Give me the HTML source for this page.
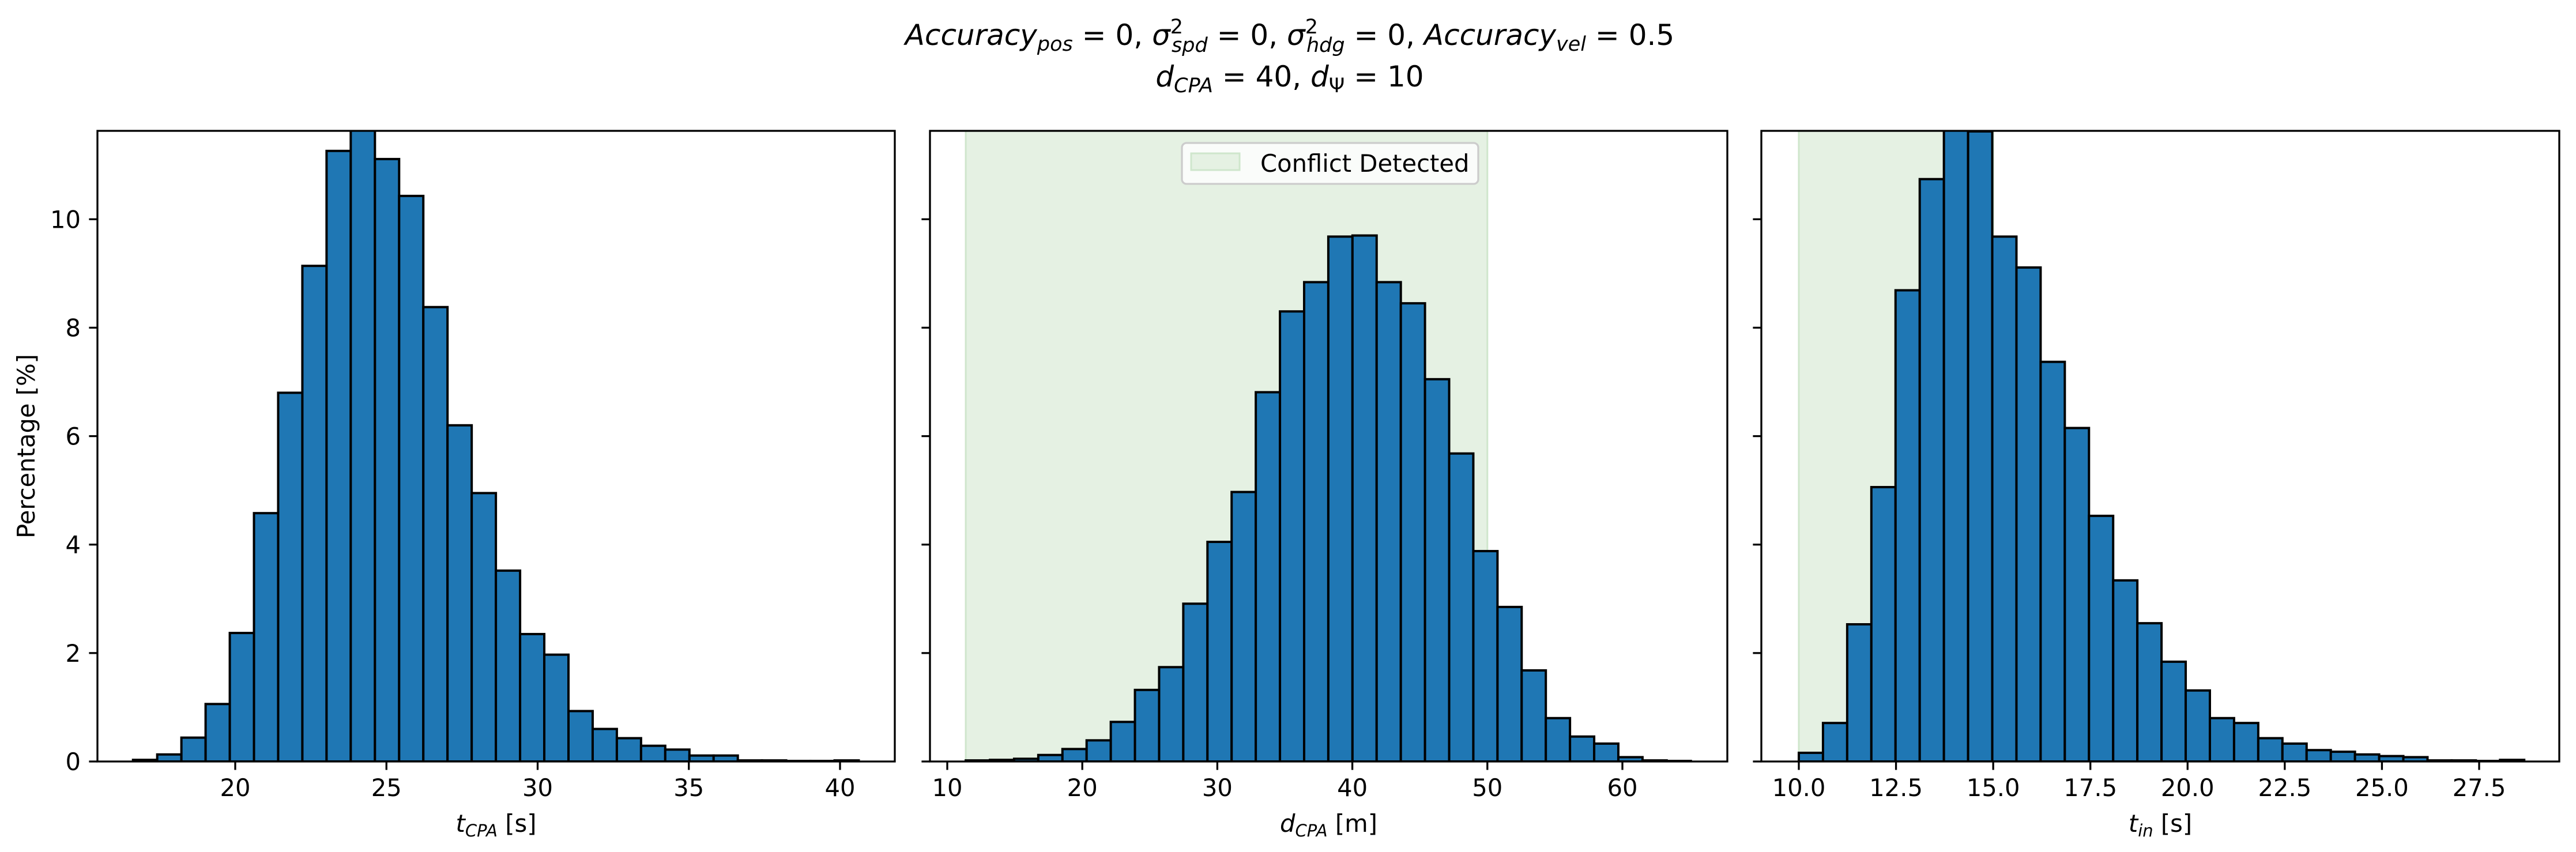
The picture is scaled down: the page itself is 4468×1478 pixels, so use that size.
<!DOCTYPE html>
<html><head><meta charset="utf-8">
<style>
html,body{margin:0;padding:0;background:#fff;}
svg{display:block;font-family:"DejaVu Sans","Liberation Sans",sans-serif;}
</style></head>
<body>
<svg id="fig" width="4468" height="1478" viewBox="0 0 4468 1478" xmlns="http://www.w3.org/2000/svg">
<rect width="4468" height="1478" fill="#fff"/>
<g font-size="50" text-anchor="middle" fill="#000">
<text x="2237" y="78"><tspan font-style="italic">Accuracy</tspan><tspan font-style="italic" font-size="35" dy="10">pos</tspan><tspan dy="-10"> = 0, </tspan><tspan font-style="italic">σ</tspan><tspan font-size="35" dy="-20">2</tspan><tspan font-style="italic" font-size="35" dx="-20" dy="32">spd</tspan><tspan dy="-12"> = 0, </tspan><tspan font-style="italic">σ</tspan><tspan font-size="35" dy="-20">2</tspan><tspan font-style="italic" font-size="35" dx="-20" dy="32">hdg</tspan><tspan dy="-12"> = 0, </tspan><tspan font-style="italic">Accuracy</tspan><tspan font-style="italic" font-size="35" dy="10">vel</tspan><tspan dy="-10"> = 0.5</tspan></text>
<text x="2237" y="150"><tspan font-style="italic">d</tspan><tspan font-style="italic" font-size="35" dy="10">CPA</tspan><tspan dy="-10"> = 40, </tspan><tspan font-style="italic">d</tspan><tspan font-size="35" dy="10">Ψ</tspan><tspan dy="-10"> = 10</tspan></text>
</g>
<text x="0" y="0" font-size="41.7" text-anchor="middle" transform="translate(60,774) rotate(-90)">Percentage [%]</text>
<g id="plots"></g>
</svg>
<script>
const yTicks = [0, 2, 4, 6, 8, 10];
const yMax = 11.63;

const tcpaStart = 16.62;
const tcpaWidth = 0.8;
const tcpaValues = [0.03,0.13,0.44,1.06,2.37,4.58,6.80,9.14,11.26,11.7,11.11,10.43,8.38,6.20,4.95,3.52,2.35,1.97,0.93,0.60,0.43,0.29,0.22,0.11,0.11,0.02,0.02,0.01,0.01,0.02];
const tcpaTicks = [20, 25, 30, 35, 40];
const tcpaTickLabels = ["20","25","30","35","40"];

const dcpaStart = 11.37;
const dcpaWidth = 1.79;
const dcpaValues = [0.02,0.03,0.05,0.12,0.23,0.39,0.73,1.32,1.74,2.91,4.05,4.97,6.81,8.30,8.84,9.68,9.70,8.84,8.45,7.05,5.68,3.88,2.85,1.68,0.80,0.46,0.33,0.08,0.02,0.01];
const dcpaTicks = [10, 20, 30, 40, 50, 60];
const dcpaTickLabels = ["10","20","30","40","50","60"];
const dcpaSpan = [11.37, 50];

const tinStart = 10.0;
const tinWidth = 0.622;
const tinValues = [0.16,0.71,2.53,5.06,8.69,10.74,11.7,11.62,9.68,9.11,7.37,6.15,4.53,3.34,2.55,1.84,1.31,0.80,0.71,0.43,0.33,0.21,0.18,0.13,0.10,0.08,0.02,0.02,0.01,0.03];
const tinTicks = [10, 12.5, 15, 17.5, 20, 22.5, 25, 27.5];
const tinTickLabels = ["10.0","12.5","15.0","17.5","20.0","22.5","25.0","27.5"];
const tinSpan = [10.0, 15.0];

const NS = "http://www.w3.org/2000/svg";
const root = document.getElementById("plots");
const TOP = 227, BOT = 1321;

function mk(tag, attrs, parent) {
  const e = document.createElementNS(NS, tag);
  for (const k in attrs) e.setAttribute(k, attrs[k]);
  parent.appendChild(e);
  return e;
}

function panel(name, px0, px1, refA, refApx, refB, refBpx, start, width, values, ticks, labels, span, xlabelParts, showYLabels, legend) {
  const k = (refBpx - refApx) / (refB - refA);
  const xs = v => refApx + (v - refA) * k;
  const ys = v => BOT - v / yMax * (BOT - TOP);
  const g = mk("g", {}, root);
  
  
  const clip = mk("clipPath", {id: "clip-" + name}, g);
  mk("rect", {x: px0, y: TOP, width: px1 - px0, height: BOT - TOP}, clip);
  const inner = mk("g", {"clip-path": "url(#clip-" + name + ")"}, g);
  if (span) {
    const s = mk("rect", {x: xs(span[0]), y: TOP, width: xs(span[1]) - xs(span[0]), height: BOT - TOP, fill: "#e5f1e3", stroke: "#cfe6cc", "stroke-width": 3}, inner);
    
    
  }
  values.forEach((v, i) => {
    const x0 = xs(start + i * width), x1 = xs(start + (i + 1) * width);
    const r = mk("rect", {x: x0, y: ys(v), width: x1 - x0, height: BOT - ys(v), fill: "#1f77b4", stroke: "#000", "stroke-width": 4}, inner);
    
    
  });
  // spines
  const sp = mk("rect", {x: px0, y: TOP, width: px1 - px0, height: BOT - TOP, fill: "none", stroke: "#000", "stroke-width": 3.3}, g);
  
  
  // y ticks
  yTicks.forEach(t => {
    const y = ys(t);
    mk("line", {x1: px0, x2: px0 - 14.6, y1: y, y2: y, stroke: "#000", "stroke-width": 3.3}, g);
    if (showYLabels) {
      const tx = mk("text", {x: px0 - 29, y: y + 15, "font-size": 41.7, "text-anchor": "end"}, g);
      tx.textContent = String(t);
      
      
    }
  });
  // x ticks
  ticks.forEach((t, i) => {
    const x = xs(t);
    mk("line", {x1: x, x2: x, y1: BOT, y2: BOT + 14.6, stroke: "#000", "stroke-width": 3.3}, g);
    const tx = mk("text", {x: x, y: BOT + 60, "font-size": 41.7, "text-anchor": "middle"}, g);
    tx.textContent = labels[i];
    
    
  });
  // x label
  const xl = mk("text", {x: (px0 + px1) / 2, y: BOT + 122, "font-size": 41.7, "text-anchor": "middle"}, g);
  
  
  const a = mk("tspan", {"font-style": "italic"}, xl); a.textContent = xlabelParts[0];
  const b = mk("tspan", {"font-style": "italic", "font-size": 29, dy: 8}, xl); b.textContent = xlabelParts[1];
  const c = mk("tspan", {dy: -8}, xl); c.textContent = " [" + xlabelParts[2] + "]";
  if (legend) {
    const lg = mk("g", {}, g);
    
    
    mk("rect", {x: 2050, y: 248, width: 514, height: 71, rx: 8, fill: "#fff", "fill-opacity": 0.8, stroke: "#cccccc", "stroke-width": 3.3}, lg);
    const p = mk("rect", {x: 2066, y: 266, width: 84, height: 29, fill: "#e5f1e3", stroke: "#cfe6cc", "stroke-width": 3}, lg);
    
    
    const lt = mk("text", {x: 2186, y: 298, "font-size": 41.7}, lg);
    lt.textContent = "Conflict Detected";
    
    
  }
}

panel("tcpa-histogram", 169, 1552, 20, 408, 40, 1457, tcpaStart, tcpaWidth, tcpaValues, tcpaTicks, tcpaTickLabels, null, ["t", "CPA", "s"], true, false);
panel("dcpa-histogram", 1613, 2996, 10, 1643, 60, 2814, dcpaStart, dcpaWidth, dcpaValues, dcpaTicks, dcpaTickLabels, dcpaSpan, ["d", "CPA", "m"], false, true);
panel("tin-histogram", 3055, 4439, 10, 3120, 27.5, 4300, tinStart, tinWidth, tinValues, tinTicks, tinTickLabels, tinSpan, ["t", "in", "s"], false, false);
</script>
</body></html>
